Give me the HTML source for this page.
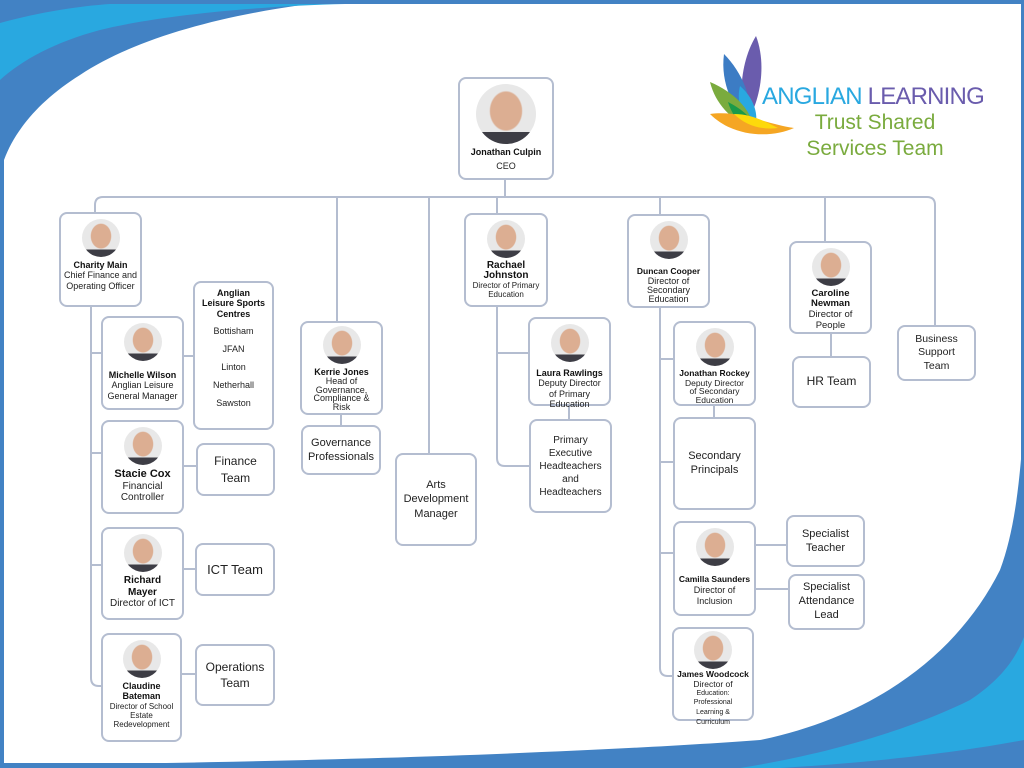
<!DOCTYPE html>
<html><head><meta charset="utf-8">
<style>
*{margin:0;padding:0;box-sizing:border-box}
body{width:1024px;height:768px;position:relative;overflow:hidden;background:#fff;font-family:"Liberation Sans",sans-serif;color:#222}
svg.bg{position:absolute;left:0;top:0}
.b{position:absolute;border:2px solid #b4bdd0;border-radius:8px;background:#fff;text-align:center;font-size:9px;line-height:1.15;display:flex;flex-direction:column;align-items:center;justify-content:center;padding:2px}
.b.t{justify-content:flex-start;padding-top:5px}
.p{width:38px;height:38px;border-radius:50%;background:radial-gradient(ellipse 28% 34% at 50% 45%,#dcae92 92%,transparent 100%),linear-gradient(to top,#3d3d45 0 20%,#e8e8e8 20%);margin-bottom:3px;flex:none}
.n{font-weight:bold;font-size:9px;color:#111}
.l{font-size:12px;line-height:1.35;color:#222}
</style></head><body>
<svg class="bg" width="1024" height="768">
<path d="M0 0H1024V768H0Z" fill="#4282c4"/>
<path d="M4 4H1021V763H4Z" fill="#fff"/>
<!-- top-left swoosh -->
<path d="M0 0H345C240 10 140 35 80 75C40 100 15 130 4 160V0Z" fill="#4282c4"/>
<path d="M0 23C40 12 80 6 110 4L345 4C260 6 160 15 100 30C55 42 22 60 0 80Z" fill="#29a8e0"/>
<!-- bottom-right swoosh -->
<path d="M1024 420V768H0V765C300 763 600 752 760 740C880 715 960 650 1000 570C1015 530 1020 480 1024 420Z" fill="#4282c4"/>
<path d="M1024 637V740C960 752 880 762 780 768H740C840 752 920 725 970 700C1000 680 1015 660 1024 637Z" fill="#29a8e0"/>
<!-- logo petals -->
<path d="M756 36C766 62 762 98 746 124C738 100 740 62 756 36Z" fill="#6a5cad"/>
<path d="M724 54C742 72 754 100 750 126C734 110 720 84 724 54Z" fill="#3c7cc4"/>
<path d="M740 86C754 98 760 116 754 130C742 118 736 102 740 86Z" fill="#29a8e0"/>
<path d="M710 82C734 92 752 110 754 130C734 122 716 106 710 82Z" fill="#7aab3e"/>
<path d="M728 102C744 110 756 122 758 132C742 128 732 116 728 102Z" fill="#1a9a4a"/>
<path d="M710 114C740 110 766 124 794 128C772 138 734 138 710 114Z" fill="#f5a623"/>
<path d="M734 114C752 114 766 122 778 128C762 130 746 126 734 114Z" fill="#fdd90b"/>
<!-- connectors -->
<g stroke="#b4bdd0" stroke-width="2" fill="none">
<path d="M505 179V197"/>
<path d="M95 212V205Q95 197 103 197H927Q935 197 935 205V325"/>
<path d="M337 197V321M429 197V453M497 197V213M660 197V214M825 197V241"/>
<path d="M91 306V678Q91 686 99 686H101M91 353H101M91 453H101M91 565H101"/>
<path d="M183 356H193M183 466H196M183 569H195M181 674H195"/>
<path d="M341 414V425"/>
<path d="M497 306V458Q497 466 505 466H529M497 353H528M569 405V419"/>
<path d="M660 307V668Q660 676 668 676H672M660 359H673M660 462H673M660 553H673M714 405V417"/>
<path d="M755 545H786M755 589H788"/>
<path d="M831 333V356"/>
</g>
</svg>
<div style="position:absolute;left:762px;top:83px;font-size:24px;letter-spacing:-0.8px;white-space:nowrap"><span style="color:#29a8e0">ANGLIAN </span><span style="color:#6a5cad">LEARNING</span></div>
<div style="position:absolute;left:790px;top:110px;width:170px;text-align:center;font-size:21px;line-height:26px;color:#7aab3e">Trust Shared<br>Services Team</div>

<div class="b t" style="left:458px;top:77px;width:96px;height:103px"><div class="p" style="width:60px;height:60px"></div><div class="n">Jonathan Culpin</div><div style="margin-top:4px">CEO</div></div>

<div class="b t" style="left:59px;top:212px;width:83px;height:95px"><div class="p"></div><div class="n">Charity Main</div><div>Chief Finance and<br>Operating Officer</div></div>
<div class="b t" style="left:101px;top:316px;width:83px;height:94px"><div class="p"></div><div class="n" style="margin-top:6px">Michelle Wilson</div><div>Anglian Leisure<br>General Manager</div></div>
<div class="b t" style="left:193px;top:281px;width:81px;height:149px"><div class="n">Anglian<br>Leisure Sports<br>Centres</div><div style="line-height:18px;margin-top:3px">Bottisham<br>JFAN<br>Linton<br>Netherhall<br>Sawston</div></div>
<div class="b t" style="left:101px;top:420px;width:83px;height:94px"><div class="p"></div><div class="n" style="font-size:11px">Stacie Cox</div><div style="font-size:10px">Financial<br>Controller</div></div>
<div class="b l" style="left:196px;top:443px;width:79px;height:53px">Finance<br>Team</div>
<div class="b t" style="left:101px;top:527px;width:83px;height:93px"><div class="p"></div><div class="n" style="font-size:10px">Richard<br>Mayer</div><div style="font-size:10px">Director of ICT</div></div>
<div class="b l" style="left:195px;top:543px;width:80px;height:53px;font-size:13px">ICT Team</div>
<div class="b t" style="left:101px;top:633px;width:81px;height:109px"><div class="p"></div><div class="n">Claudine<br>Bateman</div><div style="font-size:8px">Director of School<br>Estate<br>Redevelopment</div></div>
<div class="b l" style="left:195px;top:644px;width:80px;height:62px">Operations<br>Team</div>

<div class="b t" style="left:300px;top:321px;width:83px;height:94px;padding-top:3px"><div class="p"></div><div class="n">Kerrie Jones</div><div style="font-size:9px;line-height:0.95">Head of<br>Governance,<br>Compliance &amp;<br>Risk</div></div>
<div class="b" style="left:301px;top:425px;width:80px;height:50px;font-size:11px;line-height:1.3">Governance<br>Professionals</div>
<div class="b" style="left:395px;top:453px;width:82px;height:93px;font-size:11px;line-height:1.3">Arts<br>Development<br>Manager</div>

<div class="b t" style="left:464px;top:213px;width:84px;height:94px"><div class="p"></div><div class="n" style="font-size:10px;line-height:1">Rachael<br>Johnston</div><div style="font-size:8px">Director of Primary<br>Education</div></div>
<div class="b t" style="left:528px;top:317px;width:83px;height:89px"><div class="p"></div><div class="n" style="margin-top:3px">Laura Rawlings</div><div>Deputy Director<br>of Primary<br>Education</div></div>
<div class="b" style="left:529px;top:419px;width:83px;height:94px;font-size:10px;line-height:1.3">Primary<br>Executive<br>Headteachers<br>and<br>Headteachers</div>

<div class="b t" style="left:627px;top:214px;width:83px;height:94px"><div class="p"></div><div class="n" style="font-size:8.5px;margin-top:5px">Duncan Cooper</div><div style="line-height:1">Director of<br>Secondary<br>Education</div></div>
<div class="b t" style="left:673px;top:321px;width:83px;height:85px"><div class="p"></div><div class="n" style="font-size:8.5px">Jonathan Rockey</div><div style="font-size:8.5px;line-height:1">Deputy Director<br>of Secondary<br>Education</div></div>
<div class="b" style="left:673px;top:417px;width:83px;height:93px;font-size:11px;line-height:1.2">Secondary<br>Principals</div>
<div class="b t" style="left:673px;top:521px;width:83px;height:95px"><div class="p"></div><div class="n" style="font-size:8.5px;margin-top:6px">Camilla Saunders</div><div style="line-height:1.3">Director of<br>Inclusion</div></div>
<div class="b t" style="left:672px;top:627px;width:82px;height:94px;padding-top:2px"><div class="p" style="margin-bottom:1px"></div><div class="n" style="font-size:8.5px">James Woodcock</div><div style="font-size:8.5px;line-height:0.95">Director of<br><span style="font-size:7px;line-height:0.95">Education:<br>Professional<br>Learning &amp;<br>Curriculum</span></div></div>
<div class="b" style="left:786px;top:515px;width:79px;height:52px;font-size:11px;line-height:1.3">Specialist<br>Teacher</div>
<div class="b" style="left:788px;top:574px;width:77px;height:56px;font-size:11px;line-height:1.25">Specialist<br>Attendance<br>Lead</div>

<div class="b t" style="left:789px;top:241px;width:83px;height:93px"><div class="p"></div><div class="n" style="font-size:9.5px;line-height:1.1">Caroline<br>Newman</div><div style="font-size:9.5px">Director of<br>People</div></div>
<div class="b" style="left:792px;top:356px;width:79px;height:52px;font-size:12px">HR Team</div>
<div class="b" style="left:897px;top:325px;width:79px;height:56px;font-size:10.5px;line-height:1.3">Business<br>Support<br>Team</div>
</body></html>
